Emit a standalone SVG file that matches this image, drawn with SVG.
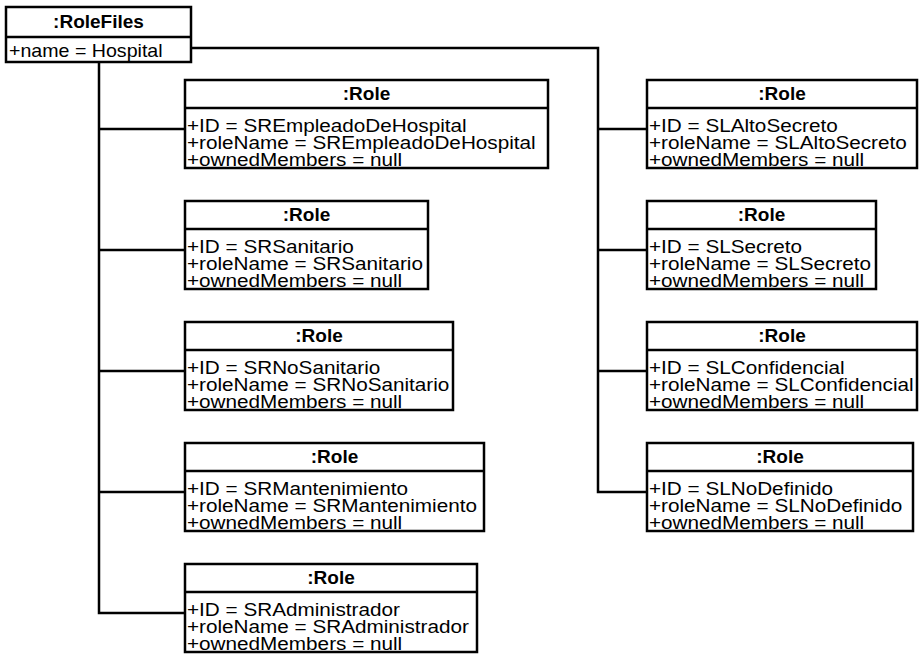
<svg xmlns="http://www.w3.org/2000/svg" width="919" height="656" viewBox="0 0 919 656">
<style>
.box{fill:#fff;stroke:#000;stroke-width:2.5}
.div{stroke:#000;stroke-width:2.5}
.hd{font-family:"Liberation Sans",Arial,sans-serif;font-size:19px;font-weight:bold;text-anchor:middle;fill:#000}
.at{font-family:"Liberation Sans",Arial,sans-serif;font-size:18.5px;fill:#000}
.cn{fill:none;stroke:#000;stroke-width:2.5}
</style>
<rect width="919" height="656" fill="#fff"/>
<g id="connectors">
<path class="cn" d="M99,62 V613 H185 M99,129 H185 M99,250 H185 M99,371 H185 M99,492 H185"/>
<path class="cn" d="M191,48 H598 V492 H647 M598,129 H647 M598,250 H647 M598,371 H647"/>
</g>
<g id="rolefiles">
<rect class="box" x="6" y="7" width="185" height="55"/>
<line class="div" x1="6" y1="37" x2="191" y2="37"/>
<text class="hd" x="98.5" y="28">:RoleFiles</text>
<g transform="translate(9,0) scale(1.06,1)"><text class="at" x="0" y="57">+name = Hospital</text></g>
</g>
<g id="role-empleado" transform="translate(185,80)">
<rect class="box" x="0" y="0" width="363" height="88"/>
<line class="div" x1="0" y1="28" x2="363" y2="28"/>
<text class="hd" x="181.5" y="20">:Role</text>
<g transform="translate(2,0) scale(1.12,1)">
<text class="at" x="0" y="52">+ID = SREmpleadoDeHospital</text>
<text class="at" x="0" y="69">+roleName = SREmpleadoDeHospital</text>
<text class="at" x="0" y="86">+ownedMembers = null</text>
</g>
</g>
<g id="role-sanitario" transform="translate(185,201)">
<rect class="box" x="0" y="0" width="243" height="88"/>
<line class="div" x1="0" y1="28" x2="243" y2="28"/>
<text class="hd" x="121.5" y="20">:Role</text>
<g transform="translate(2,0) scale(1.12,1)">
<text class="at" x="0" y="52">+ID = SRSanitario</text>
<text class="at" x="0" y="69">+roleName = SRSanitario</text>
<text class="at" x="0" y="86">+ownedMembers = null</text>
</g>
</g>
<g id="role-nosanitario" transform="translate(185,322)">
<rect class="box" x="0" y="0" width="268" height="88"/>
<line class="div" x1="0" y1="28" x2="268" y2="28"/>
<text class="hd" x="134" y="20">:Role</text>
<g transform="translate(2,0) scale(1.12,1)">
<text class="at" x="0" y="52">+ID = SRNoSanitario</text>
<text class="at" x="0" y="69">+roleName = SRNoSanitario</text>
<text class="at" x="0" y="86">+ownedMembers = null</text>
</g>
</g>
<g id="role-mantenimiento" transform="translate(185,443)">
<rect class="box" x="0" y="0" width="299" height="88"/>
<line class="div" x1="0" y1="28" x2="299" y2="28"/>
<text class="hd" x="149.5" y="20">:Role</text>
<g transform="translate(2,0) scale(1.12,1)">
<text class="at" x="0" y="52">+ID = SRMantenimiento</text>
<text class="at" x="0" y="69">+roleName = SRMantenimiento</text>
<text class="at" x="0" y="86">+ownedMembers = null</text>
</g>
</g>
<g id="role-administrador" transform="translate(185,564)">
<rect class="box" x="0" y="0" width="292" height="88"/>
<line class="div" x1="0" y1="28" x2="292" y2="28"/>
<text class="hd" x="146" y="20">:Role</text>
<g transform="translate(2,0) scale(1.12,1)">
<text class="at" x="0" y="52">+ID = SRAdministrador</text>
<text class="at" x="0" y="69">+roleName = SRAdministrador</text>
<text class="at" x="0" y="86">+ownedMembers = null</text>
</g>
</g>
<g id="role-altosecreto" transform="translate(647,80)">
<rect class="box" x="0" y="0" width="270" height="88"/>
<line class="div" x1="0" y1="28" x2="270" y2="28"/>
<text class="hd" x="135" y="20">:Role</text>
<g transform="translate(2,0) scale(1.12,1)">
<text class="at" x="0" y="52">+ID = SLAltoSecreto</text>
<text class="at" x="0" y="69">+roleName = SLAltoSecreto</text>
<text class="at" x="0" y="86">+ownedMembers = null</text>
</g>
</g>
<g id="role-secreto" transform="translate(647,201)">
<rect class="box" x="0" y="0" width="229" height="88"/>
<line class="div" x1="0" y1="28" x2="229" y2="28"/>
<text class="hd" x="114.5" y="20">:Role</text>
<g transform="translate(2,0) scale(1.12,1)">
<text class="at" x="0" y="52">+ID = SLSecreto</text>
<text class="at" x="0" y="69">+roleName = SLSecreto</text>
<text class="at" x="0" y="86">+ownedMembers = null</text>
</g>
</g>
<g id="role-confidencial" transform="translate(647,322)">
<rect class="box" x="0" y="0" width="270" height="88"/>
<line class="div" x1="0" y1="28" x2="270" y2="28"/>
<text class="hd" x="135" y="20">:Role</text>
<g transform="translate(2,0) scale(1.12,1)">
<text class="at" x="0" y="52">+ID = SLConfidencial</text>
<text class="at" x="0" y="69">+roleName = SLConfidencial</text>
<text class="at" x="0" y="86">+ownedMembers = null</text>
</g>
</g>
<g id="role-nodefinido" transform="translate(647,443)">
<rect class="box" x="0" y="0" width="266" height="88"/>
<line class="div" x1="0" y1="28" x2="266" y2="28"/>
<text class="hd" x="133" y="20">:Role</text>
<g transform="translate(2,0) scale(1.12,1)">
<text class="at" x="0" y="52">+ID = SLNoDefinido</text>
<text class="at" x="0" y="69">+roleName = SLNoDefinido</text>
<text class="at" x="0" y="86">+ownedMembers = null</text>
</g>
</g>
</svg>
